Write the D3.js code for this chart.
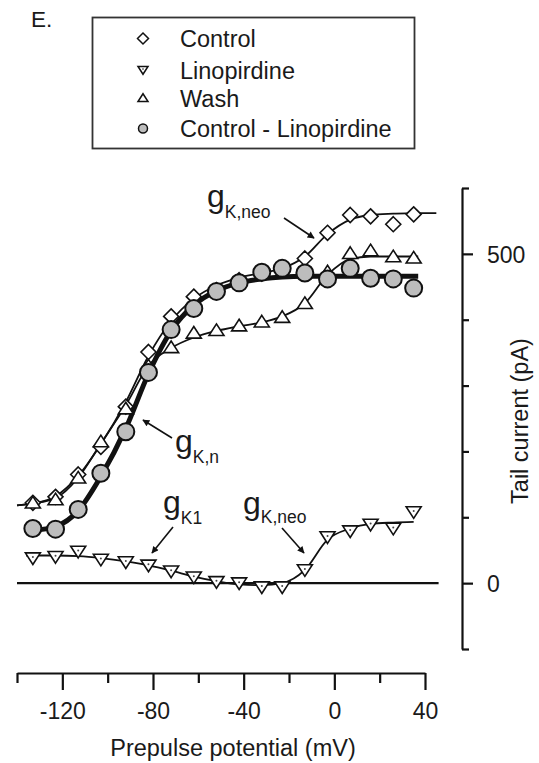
<!DOCTYPE html>
<html lang="en">
<head>
    <meta charset="UTF-8">
    <title>Tail current vs prepulse</title>
    <script src="https://cdn.jsdelivr.net/npm/d3@7/dist/d3.min.js"></script>
    <style>
        body { margin: 0; background: #fff; }
        svg text { font-family: "Liberation Sans", Arial, sans-serif; fill: #1a1a1a; }
        .axis path, .axis line { stroke: #111; stroke-width: 2.2; fill: none; }
    </style>
</head>
<body>
    <script>
        var w = 539;
        var h = 763;

        // prepulse potentials (mV), same for every series
        var volts = [-133, -123, -113, -103, -92, -82, -72, -62, -52, -42, -32, -23, -13, -3, 7, 16, 26, 35];

        // tail currents (pA)
        var control     = [122, 131, 165, 207, 268, 351, 405, 435, 445, 460, 470, 477, 493, 532, 559, 557, 545, 560];
        var linopirdine = [38, 40, 48, 36, 32, 27, 18, 9, 2, 0, -6, -6, 20, 70, 79, 89, 83, 108];
        var wash        = [122, 127, 160, 215, 265, 330, 358, 380, 384, 391, 397, 404, 425, 473, 501, 505, 496, 494];
        var difference  = [83, 82, 112, 167, 230, 320, 385, 417, 443, 456, 472, 478, 471, 462, 478, 463, 462, 448];

        // fitted curves
        var controlFitV = [-140, -133, -123, -113, -103, -92, -82, -72, -62, -52, -42, -32, -23, -13, -3, 7, 16, 26, 35, 45];
        var controlFit  = [118, 121, 132, 163, 211, 275, 345, 398, 432, 452, 464, 471, 478, 496, 530, 552, 559, 561, 562, 562];
        var washFitV = [-140, -133, -123, -113, -103, -92, -82, -72, -62, -52, -42, -32, -23, -13, -3, 7, 16, 26, 37];
        var washFit  = [118, 121, 129, 160, 212, 270, 330, 357, 373, 383, 390, 396, 405, 425, 468, 492, 496, 496, 496];
        var linoFitV = [-136, -133, -123, -113, -103, -92, -82, -72, -62, -52, -42, -32, -23, -13, -3, 7, 16, 26, 35];
        var linoFit  = [42, 42, 42, 41, 38, 33, 27, 19, 10, 3, -2, -3, 0, 20, 66, 83, 90, 92, 93];
        var diffFitV = [-133, -123, -113, -103, -92, -82, -72, -62, -52, -42, -32, -23, -13, -3, 7, 16, 26, 37];
        var diffFit  = [80, 86, 110, 162, 235, 318, 383, 422, 444, 456, 462, 465, 466, 466, 466, 466, 466, 466];

        var xTicks = [-140, -120, -100, -80, -60, -40, -20, 0, 20, 40];
        var xLabels = [-120, -80, -40, 0, 40];
        var yTicks = [-100, 0, 100, 200, 300, 400, 500, 600];
        var yLabels = [0, 500];

        var legendNames = ['Control', 'Linopirdine', 'Wash', 'Control - Linopirdine'];

        //scales
        var xScale = d3.scaleLinear().domain([-140, 40]).range([17, 425]);
        var yScale = d3.scaleLinear().domain([-100, 600]).range([649, 188]);

        var svg = d3.select('body').append('svg')
                    .attr('width', w)
                    .attr('height', h);

        //x axis
        var xAxis = d3.axisBottom(xScale)
                        .tickValues(xTicks)
                        .tickSize(17)
                        .tickSizeOuter(0)
                        .tickFormat('');
        var gx = svg.append('g')
            .attr('class', 'axis')
            .attr('transform', 'translate(0,673)')
            .call(xAxis);
        gx.selectAll('.tick line')
            .attr('y2', function(d) { return xLabels.indexOf(d) >= 0 ? 17 : 10; });
        gx.selectAll('.tick')
            .filter(function(d) { return xLabels.indexOf(d) >= 0; })
            .append('text')
            .attr('y', 46)
            .attr('text-anchor', 'middle')
            .style('font-size', '23px')
            .style('fill', '#1a1a1a')
            .text(function(d) { return d; });

        //y axis on the right
        var yAxis = d3.axisRight(yScale)
                        .tickValues(yTicks)
                        .tickSizeOuter(0)
                        .tickFormat('');
        var gy = svg.append('g')
            .attr('class', 'axis')
            .attr('transform', 'translate(462,0)')
            .call(yAxis);
        gy.selectAll('.tick line')
            .attr('x2', function(d) { return yLabels.indexOf(d) >= 0 ? 11 : 7; });
        gy.selectAll('.tick')
            .filter(function(d) { return yLabels.indexOf(d) >= 0; })
            .append('text')
            .attr('x', 25)
            .attr('dy', '0.36em')
            .style('font-size', '23px')
            .style('fill', '#1a1a1a')
            .text(function(d) { return d; });

        //axis titles
        svg.append('text')
            .attr('x', 233)
            .attr('y', 756)
            .attr('text-anchor', 'middle')
            .style('font-size', '23.5px')
            .text('Prepulse potential (mV)');

        svg.append('text')
            .attr('transform', 'translate(528,421) rotate(-90)')
            .attr('text-anchor', 'middle')
            .style('font-size', '23.5px')
            .text('Tail current (pA)');

        //zero line
        svg.append('line')
            .attr('x1', xScale(-140))
            .attr('x2', xScale(46))
            .attr('y1', yScale(0))
            .attr('y2', yScale(0))
            .attr('stroke', '#111')
            .attr('stroke-width', 2.4);

        //fit lines
        function drawFit(vs, vals, width) {
            var pts = vs.map(function(v, i) { return [v, vals[i]]; });
            var line = d3.line()
                .x(function(d) { return xScale(d[0]); })
                .y(function(d) { return yScale(d[1]); })
                .curve(d3.curveMonotoneX);
            svg.append('path')
                .datum(pts)
                .attr('d', line)
                .attr('fill', 'none')
                .attr('stroke', '#111')
                .attr('stroke-width', width)
                .attr('stroke-linejoin', 'round');
        }
        drawFit(linoFitV, linoFit, 1.8);
        drawFit(washFitV, washFit, 1.8);
        drawFit(controlFitV, controlFit, 1.8);
        drawFit(diffFitV, diffFit, 5);

        //marker shapes
        function diamondPath(s) {
            return 'M0,' + (-s) + 'L' + s + ',0L0,' + s + 'L' + (-s) + ',0Z';
        }
        function triUpPath(s) {
            return 'M0,' + (-s * 0.85) + 'L' + s + ',' + (s * 0.7) + 'L' + (-s) + ',' + (s * 0.7) + 'Z';
        }
        function triDownPath(s) {
            return 'M0,' + (s * 0.85) + 'L' + s + ',' + (-s * 0.7) + 'L' + (-s) + ',' + (-s * 0.7) + 'Z';
        }

        function pairs(vals) {
            return volts.map(function(v, i) { return [v, vals[i]]; });
        }

        //linopirdine
        var lino = svg.append('g').selectAll('g')
            .data(pairs(linopirdine))
            .enter().append('g')
            .attr('transform', function(d) { return 'translate(' + xScale(d[0]) + ',' + yScale(d[1]) + ')'; });
        lino.append('path')
            .attr('d', triDownPath(7.5))
            .attr('fill', '#fff')
            .attr('stroke', '#111')
            .attr('stroke-width', 1.6);
        lino.append('circle')
            .attr('r', 1)
            .attr('cy', -1)
            .attr('fill', '#444');

        //control
        svg.append('g').selectAll('path')
            .data(pairs(control))
            .enter().append('path')
            .attr('transform', function(d) { return 'translate(' + xScale(d[0]) + ',' + yScale(d[1]) + ')'; })
            .attr('d', diamondPath(7.5))
            .attr('fill', '#fff')
            .attr('stroke', '#111')
            .attr('stroke-width', 1.6);

        //wash
        svg.append('g').selectAll('path')
            .data(pairs(wash))
            .enter().append('path')
            .attr('transform', function(d) { return 'translate(' + xScale(d[0]) + ',' + yScale(d[1]) + ')'; })
            .attr('d', triUpPath(7.5))
            .attr('fill', '#fff')
            .attr('stroke', '#111')
            .attr('stroke-width', 1.6);

        //control - linopirdine
        svg.append('g').selectAll('circle')
            .data(pairs(difference))
            .enter().append('circle')
            .attr('cx', function(d) { return xScale(d[0]); })
            .attr('cy', function(d) { return yScale(d[1]); })
            .attr('r', 8.5)
            .attr('fill', '#bdbdbd')
            .attr('stroke', '#111')
            .attr('stroke-width', 2);

        //annotations
        function gLabel(x, y, sub, dy) {
            var t = svg.append('text').attr('x', x).attr('y', y);
            t.append('tspan').style('font-size', '32px').text('g');
            t.append('tspan').attr('dy', dy).style('font-size', '17.5px').text(sub);
        }
        gLabel(207, 207, 'K,neo', 11);
        gLabel(175, 452, 'K,n', 11);
        gLabel(163, 513, 'K1', 11);
        gLabel(243, 514, 'K,neo', 9);

        svg.append('defs').append('marker')
            .attr('id', 'head')
            .attr('viewBox', '0 0 10 10')
            .attr('refX', 9)
            .attr('refY', 5)
            .attr('markerWidth', 10)
            .attr('markerHeight', 7)
            .attr('markerUnits', 'userSpaceOnUse')
            .attr('orient', 'auto')
            .append('path')
            .attr('d', 'M0,0L10,5L0,10Z')
            .attr('fill', '#111');

        var arrows = [
            [284, 218, 314, 238],
            [172, 438, 143, 420],
            [173, 527, 152, 553],
            [282, 528, 304, 553]
        ];
        svg.selectAll('line.arrow')
            .data(arrows)
            .enter().append('line')
            .attr('class', 'arrow')
            .attr('x1', function(d) { return d[0]; })
            .attr('y1', function(d) { return d[1]; })
            .attr('x2', function(d) { return d[2]; })
            .attr('y2', function(d) { return d[3]; })
            .attr('stroke', '#111')
            .attr('stroke-width', 1.6)
            .attr('marker-end', 'url(#head)');

        //panel letter
        svg.append('text')
            .attr('x', 31)
            .attr('y', 27)
            .style('font-size', '22.5px')
            .text('E.');

        //legend
        var legend = svg.append('g');
        legend.append('rect')
            .attr('x', 92.5)
            .attr('y', 17.5)
            .attr('width', 322)
            .attr('height', 131)
            .attr('fill', '#fff')
            .attr('stroke', '#333')
            .attr('stroke-width', 1.8);

        var rowY = [38.5, 70, 98, 128.5];
        var rows = legend.selectAll('g.row')
            .data(legendNames)
            .enter().append('g')
            .attr('class', 'row')
            .attr('transform', function(d, i) { return 'translate(0,' + rowY[i] + ')'; });
        rows.append('text')
            .attr('x', 180)
            .attr('y', 8.5)
            .style('font-size', '23.5px')
            .text(function(d) { return d; });
        rows.each(function(d, i) {
            var g = d3.select(this).append('g').attr('transform', 'translate(143,0)');
            if (i === 0) {
                g.append('path').attr('d', diamondPath(5.5)).attr('fill', '#fff').attr('stroke', '#111').attr('stroke-width', 1.5);
            } else if (i === 1) {
                g.append('path').attr('d', triDownPath(5)).attr('fill', '#fff').attr('stroke', '#111').attr('stroke-width', 1.5);
                g.append('circle').attr('r', 1).attr('cy', -1).attr('fill', '#777');
            } else if (i === 2) {
                g.append('path').attr('d', triUpPath(5)).attr('fill', '#fff').attr('stroke', '#111').attr('stroke-width', 1.5);
            } else {
                g.append('circle').attr('r', 4.5).attr('fill', '#bdbdbd').attr('stroke', '#111').attr('stroke-width', 1.5);
            }
        });
    </script>
</body>
</html>
